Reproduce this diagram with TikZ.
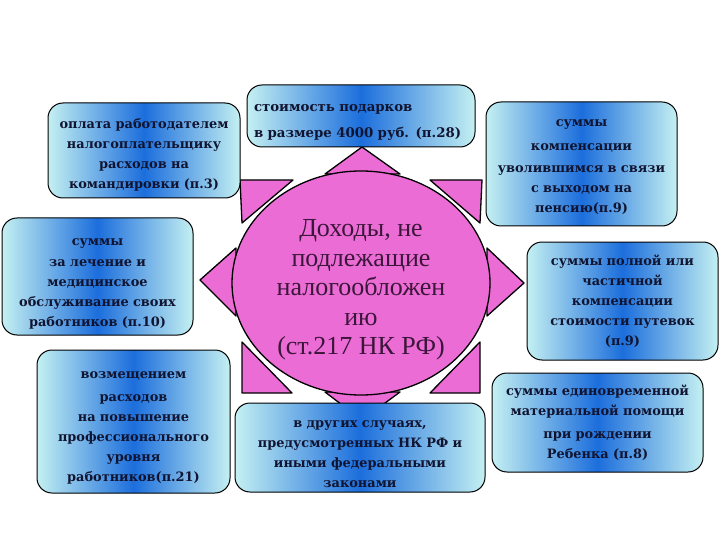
\documentclass[tikz,border=0pt]{standalone}
\usepackage{fontspec}
\setmainfont{Liberation Serif}
\newfontfamily\boxfont{DejaVu Serif}
\usetikzlibrary{shapes.geometric}
\definecolor{pinkF}{RGB}{236,108,214}
\definecolor{cyanL}{RGB}{196,240,242}
\definecolor{blueM}{RGB}{28,110,220}
\definecolor{navyT}{RGB}{16,20,48}
\definecolor{plumT}{RGB}{60,22,58}
\newcommand\topgap[1]{\rule{0pt}{#1}}
\tikzset{
  ray/.style={fill=pinkF, draw=black, line width=1.3pt, line join=round},
  box/.style={draw=black, line width=1pt, rounded corners=15pt,
    left color=cyanL, right color=cyanL, middle color=blueM,
    align=center, text=navyT, inner sep=3pt,
    font=\boxfont\fontsize{12.9}{20}\selectfont\bfseries},
}
\begin{document}
\begin{tikzpicture}[x=1pt,y=-1pt]
\useasboundingbox (0,0) rectangle (720,540);
\fill[white] (0,0) rectangle (720,540);
% rays of the sun
\draw[ray] (325,174) -- (362,147) -- (400,174) -- cycle;
\draw[ray] (325,392) -- (362,420) -- (400,392) -- cycle;
\draw[ray] (236,248) -- (200,280) -- (236,316) -- cycle;
\draw[ray] (487,248) -- (524,283) -- (487,316) -- cycle;
\draw[ray] (240,180) -- (293,180) -- (242,223) -- cycle;
\draw[ray] (482,180) -- (430,180) -- (480,223) -- cycle;
\draw[ray] (242,342) -- (242,393) -- (292,393) -- cycle;
\draw[ray] (480,342) -- (480,393) -- (430,393) -- cycle;
% centre
\node[ellipse, fill=pinkF, draw=black, line width=1.3pt,
  minimum width=258pt, minimum height=224pt, inner sep=0pt] (sun) at (361,283) {};
\node[align=center, text=plumT, font=\rmfamily\fontsize{26}{29.5}\selectfont] (suntext) at (361,290)
  {Доходы, не\\подлежащие\\налогообложен\\ию\\(ст.217 НК РФ)};
% boxes
\node[box, minimum width=192pt, minimum height=95pt, text width=186pt] (a) at (144,150.5)
  {\topgap{19pt}оплата работодателем\\налогоплательщику\\расходов на\\командировки (п.3)};
\node[box, minimum width=191pt, minimum height=117pt, text width=185pt] (b) at (97.5,276.5)
  {\topgap{22pt}суммы\\[1pt]за лечение и\\медицинское\\обслуживание своих\\работников (п.10)};
\node[box, minimum width=193pt, minimum height=143pt, text width=187pt] (c) at (133.5,421.5)
  {\topgap{20pt}возмещением\\[3pt]расходов\\на повышение\\профессионального\\уровня\\работников(п.21)};
\node[box, minimum width=228pt, minimum height=62pt, text width=214pt, align=left,
  font=\boxfont\fontsize{13.3}{26}\selectfont\bfseries] (d) at (361,116)
  {\topgap{19pt}стоимость подарков\\в размере 4000 руб. (п.28)};
\node[box, minimum width=250pt, minimum height=89pt, text width=244pt] (e) at (360,447.5)
  {\topgap{21pt}в других случаях,\\предусмотренных НК РФ и\\иными федеральными\\законами};
\node[box, minimum width=191pt, minimum height=124pt, text width=185pt] (f) at (581.5,164)
  {\topgap{14pt}суммы\\[4pt]компенсации\\[2pt]уволившимся в связи\\с выходом на\\пенсию(п.9)};
\node[box, minimum width=191pt, minimum height=118pt, text width=185pt] (g) at (622.5,301)
  {суммы полной или\\частичной\\компенсации\\стоимости путевок\\(п.9)};
\node[box, minimum width=211pt, minimum height=99pt, text width=205pt] (h) at (597.5,422.5)
  {суммы единовременной\\материальной помощи\\[3pt]при рождении\\Ребенка (п.8)};
\end{tikzpicture}
\end{document}
